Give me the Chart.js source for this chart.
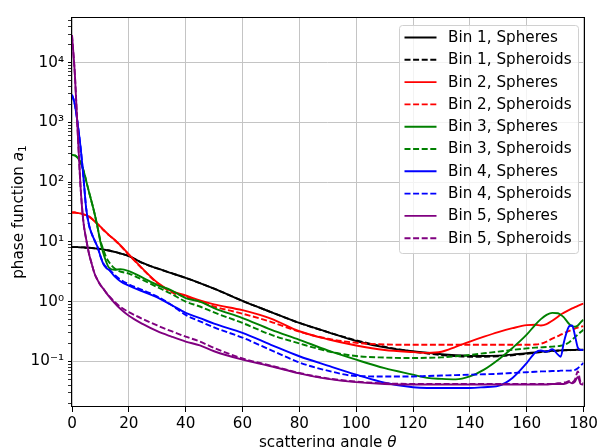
<!DOCTYPE html>
<html>
<head>
<meta charset="utf-8">
<script src="https://cdn.jsdelivr.net/npm/chart.js@4/dist/chart.umd.min.js"></script>
<style>
  html, body { margin: 0; padding: 0; background: #fff; overflow: hidden; }
  canvas { display: block; }
</style>
</head>
<body>
<canvas id="chart" width="601" height="447"></canvas>
<script>
/* ---- DATA ---- */
const ANGLES = [0, 1, 2, 3, 4, 5, 6, 7, 8, 9, 10, 11, 12, 13, 15, 17, 20, 25, 30, 35, 40, 45, 50,
  60, 70, 80, 90, 100, 110, 120, 125, 130, 135, 140, 145, 150, 155, 160, 163, 165, 167, 169, 171,
  172, 173, 174, 175, 176, 177, 178, 179, 180];

const B1_SPHERES = [8.2, 8.2, 8.2, 8.1, 8.1, 8.0, 8.0, 7.9, 7.8, 7.7, 7.6, 7.5, 7.3, 7.2, 6.8, 6.4, 5.8, 4.4, 3.6, 3.0, 2.5, 2.05, 1.65,
  1.03, 0.67, 0.44, 0.31, 0.22, 0.172, 0.148, 0.14, 0.132, 0.127, 0.124, 0.123, 0.125, 0.13, 0.137, 0.142, 0.145, 0.148, 0.15, 0.152,
  0.153, 0.154, 0.155, 0.155, 0.156, 0.156, 0.157, 0.157, 0.157];
const B1_SPHEROIDS = [8.2, 8.2, 8.2, 8.1, 8.1, 8.0, 8.0, 7.9, 7.8, 7.7, 7.6, 7.5, 7.3, 7.2, 6.8, 6.4, 5.8, 4.4, 3.6, 3.0, 2.5, 2.05, 1.65,
  1.03, 0.67, 0.44, 0.31, 0.225, 0.176, 0.146, 0.136, 0.128, 0.123, 0.12, 0.12, 0.122, 0.127, 0.134, 0.14, 0.143, 0.146, 0.149, 0.151,
  0.152, 0.153, 0.154, 0.154, 0.155, 0.155, 0.156, 0.156, 0.156];

const B2_SPHERES = [31, 31, 30.5, 30, 29, 28, 26.5, 24.5, 22, 20, 18, 16, 14.5, 13, 10.9, 8.8, 6.2, 3.5, 2.1, 1.5, 1.27, 1.05, 0.9,
  0.72, 0.52, 0.32, 0.235, 0.185, 0.155, 0.143, 0.139, 0.145, 0.175, 0.215, 0.26, 0.31, 0.36, 0.405, 0.41, 0.40, 0.42, 0.48, 0.56,
  0.61, 0.65, 0.69, 0.73, 0.77, 0.81, 0.85, 0.89, 0.93];
const B2_SPHEROIDS = [31, 31, 30.5, 30, 29, 28, 26.5, 24.5, 22, 20, 18, 16, 14.5, 13, 10.8, 8.7, 6.1, 3.45, 2.05, 1.45, 1.2, 1.0, 0.83,
  0.63, 0.46, 0.315, 0.24, 0.205, 0.192, 0.19, 0.19, 0.19, 0.19, 0.19, 0.19, 0.19, 0.19, 0.19, 0.192, 0.198, 0.215, 0.24, 0.265,
  0.28, 0.295, 0.31, 0.325, 0.34, 0.355, 0.37, 0.38, 0.39];

const B3_SPHERES = [285, 280, 255, 215, 160, 105, 68, 45, 29, 17.5, 10, 6.5, 4.7, 3.7, 3.4, 3.5, 3.25, 2.5, 1.9, 1.55, 1.15, 1.0, 0.78,
  0.53, 0.34, 0.23, 0.153, 0.107, 0.077, 0.06, 0.053, 0.051, 0.05, 0.056, 0.073, 0.107, 0.168, 0.28, 0.41, 0.51, 0.6, 0.65, 0.64,
  0.6, 0.55, 0.48, 0.42, 0.39, 0.38, 0.4, 0.45, 0.5];
const B3_SPHEROIDS = [285, 280, 255, 215, 160, 105, 68, 45, 29, 17.5, 10.5, 7.5, 5.6, 4.6, 3.6, 3.2, 2.95, 2.3, 1.75, 1.35, 1.0, 0.83, 0.66,
  0.44, 0.28, 0.2, 0.148, 0.123, 0.116, 0.114, 0.115, 0.117, 0.122, 0.128, 0.137, 0.146, 0.156, 0.165, 0.17, 0.172, 0.174, 0.177, 0.18,
  0.183, 0.188, 0.197, 0.21, 0.23, 0.255, 0.28, 0.31, 0.34];

const B4_SPHERES = [2900, 2000, 950, 390, 125, 36, 19, 13.5, 10.5, 8.2, 5.8, 4.3, 3.7, 3.4, 2.65, 2.2, 1.85, 1.48, 1.18, 0.88, 0.65, 0.53, 0.43,
  0.3, 0.19, 0.122, 0.085, 0.06, 0.044, 0.037, 0.036, 0.036, 0.036, 0.036, 0.037, 0.039, 0.053, 0.094, 0.14, 0.152, 0.145, 0.16, 0.13,
  0.12, 0.2, 0.3, 0.39, 0.4, 0.27, 0.17, 0.155, 0.157];
const B4_SPHEROIDS = [2900, 2000, 950, 390, 125, 36, 19, 13.5, 10.5, 8.2, 5.8, 4.4, 3.8, 3.5, 2.8, 2.35, 1.95, 1.55, 1.22, 0.88, 0.6, 0.47, 0.37,
  0.25, 0.155, 0.096, 0.07, 0.057, 0.056, 0.056, 0.057, 0.058, 0.059, 0.06, 0.061, 0.062, 0.064, 0.066, 0.067, 0.068, 0.068, 0.069, 0.069,
  0.07, 0.07, 0.07, 0.07, 0.071, 0.072, 0.077, 0.085, 0.094];

const B5_SPHERES = [29000, 6500, 700, 85, 22, 11, 6.3, 4.2, 2.9, 2.3, 1.9, 1.65, 1.42, 1.23, 0.95, 0.76, 0.58, 0.42, 0.32, 0.26, 0.215, 0.185, 0.148,
  0.107, 0.083, 0.063, 0.051, 0.045, 0.042, 0.041, 0.041, 0.041, 0.041, 0.041, 0.041, 0.041, 0.041, 0.041, 0.041, 0.041, 0.041, 0.042, 0.042,
  0.042, 0.042, 0.043, 0.045, 0.043, 0.046, 0.055, 0.042, 0.041];
const B5_SPHEROIDS = [29000, 6500, 700, 85, 22, 11, 6.3, 4.2, 2.9, 2.3, 1.9, 1.65, 1.42, 1.25, 1.0, 0.82, 0.67, 0.51, 0.4, 0.32, 0.26, 0.215, 0.168,
  0.112, 0.085, 0.064, 0.052, 0.046, 0.043, 0.042, 0.042, 0.042, 0.042, 0.042, 0.042, 0.042, 0.042, 0.042, 0.042, 0.042, 0.042, 0.042, 0.043,
  0.043, 0.044, 0.045, 0.047, 0.045, 0.05, 0.068, 0.045, 0.043];

const SERIES_LABELS = ['Bin 1, Spheres', 'Bin 1, Spheroids', 'Bin 2, Spheres', 'Bin 2, Spheroids', 'Bin 3, Spheres',
  'Bin 3, Spheroids', 'Bin 4, Spheres', 'Bin 4, Spheroids', 'Bin 5, Spheres', 'Bin 5, Spheroids'];
const SERIES_VALUES = [B1_SPHERES, B1_SPHEROIDS, B2_SPHERES, B2_SPHEROIDS, B3_SPHERES,
  B3_SPHEROIDS, B4_SPHERES, B4_SPHEROIDS, B5_SPHERES, B5_SPHEROIDS];
const X_TICKS = [0, 20, 40, 60, 80, 100, 120, 140, 160, 180];
const Y_MIN = 0.01726;
const Y_MAX = 58200;

/* ---- STYLE ---- */
const COLORS = ['#000000', '#ff0000', '#008000', '#0000ff', '#800080'];
const DASH = [6, 2.6];
const LINE_W = 1.9;
const GRID = '#c4c4c4';
const FONT = 'DejaVu Sans';
const FS = 15.2;

/* ---- HELPERS ---- */
const SUP = { '-': '\u207b', '0': '\u2070', '1': '\u00b9', '2': '\u00b2', '3': '\u00b3', '4': '\u2074' };
function isDecade(v) {
  const l = Math.log10(v);
  return Math.abs(l - Math.round(l)) < 1e-9;
}
function decadeLabel(v) {
  const e = String(Math.round(Math.log10(v)));
  return '10' + e.split('').map(c => SUP[c]).join('');
}
function logTicks(min, max) {
  const out = [];
  for (let k = -2; k <= 4; k++) {
    for (let m = 1; m <= 9; m++) {
      const v = m * Math.pow(10, k);
      if (v >= min && v <= max) out.push({ value: v, major: m === 1 });
    }
  }
  return out;
}
function richWidth(ctx, parts) {
  return parts.reduce((w, p) => { ctx.font = p.font; return w + ctx.measureText(p.text).width; }, 0);
}
function drawRich(ctx, parts, cx, y) {
  let x = cx - richWidth(ctx, parts) / 2;
  parts.forEach(p => {
    ctx.font = p.font;
    ctx.fillText(p.text, x, y + (p.dy || 0));
    x += ctx.measureText(p.text).width;
  });
}

/* ---- OVERLAY: frame, legend, axis titles ---- */
const overlay = {
  id: 'overlay',
  afterDraw(chart) {
    const { ctx, chartArea: a } = chart;
    ctx.save();

    // frame
    ctx.strokeStyle = '#000';
    ctx.lineWidth = 1;
    ctx.strokeRect(Math.round(a.left) - 0.5, Math.round(a.top) + 0.5,
      Math.round(a.right) - Math.round(a.left) + 1, Math.round(a.bottom) - Math.round(a.top) - 1);

    // legend
    const lx = 399.5, ly = 25.5, lw = 179, lh = 228;
    ctx.beginPath();
    ctx.roundRect(lx, ly, lw, lh, 3);
    ctx.fillStyle = 'rgba(255,255,255,0.8)';
    ctx.fill();
    ctx.strokeStyle = '#d0d0d0';
    ctx.stroke();
    ctx.textBaseline = 'middle';
    ctx.textAlign = 'left';
    SERIES_LABELS.forEach((lab, i) => {
      const y = 37.5 + i * 22.3;
      ctx.beginPath();
      ctx.strokeStyle = COLORS[Math.floor(i / 2)];
      ctx.lineWidth = LINE_W;
      ctx.setLineDash(i % 2 ? DASH : []);
      ctx.moveTo(404.5, y);
      ctx.lineTo(436.5, y);
      ctx.stroke();
      ctx.setLineDash([]);
      ctx.fillStyle = '#000';
      ctx.font = FS + 'px "' + FONT + '"';
      ctx.fillText(lab, 448, y + 0.5);
    });

    // axis titles
    ctx.textBaseline = 'alphabetic';
    ctx.fillStyle = '#000';
    const norm = FS + 'px "' + FONT + '"';
    const ital = 'italic ' + FS + 'px "' + FONT + '"';
    const small = (FS * 0.7).toFixed(1) + 'px "' + FONT + '"';
    drawRich(ctx, [{ text: 'scattering angle ', font: norm }, { text: '\u03b8', font: ital }],
      (a.left + a.right) / 2, 446.5);

    ctx.translate(23, (a.top + a.bottom) / 2);
    ctx.rotate(-Math.PI / 2);
    drawRich(ctx, [{ text: 'phase function ', font: norm }, { text: 'a', font: ital },
      { text: '1', font: small, dy: 3 }], 0, 0);
    ctx.restore();
  }
};

/* ---- CHART ---- */
const datasets = SERIES_VALUES.map((vals, i) => ({
  label: SERIES_LABELS[i],
  data: ANGLES.map((x, j) => ({ x, y: vals[j] })),
  borderColor: COLORS[Math.floor(i / 2)],
  borderWidth: LINE_W,
  borderDash: i % 2 ? DASH : [],
  pointRadius: 0,
  fill: false,
  cubicInterpolationMode: 'monotone',
  order: SERIES_VALUES.length - i
}));

new Chart(document.getElementById('chart'), {
  type: 'line',
  data: { datasets },
  options: {
    responsive: false,
    animation: false,
    devicePixelRatio: 1,
    layout: { padding: { top: 17, right: 14, left: 0, bottom: 0 } },
    plugins: { legend: { display: false }, tooltip: { enabled: false } },
    scales: {
      x: {
        type: 'linear', min: 0, max: 180,
        afterBuildTicks: s => { s.ticks = X_TICKS.map(v => ({ value: v })); },
        afterFit: s => { s.height = 40; },
        border: { display: false },
        grid: { color: GRID, lineWidth: 1, tickColor: '#000', tickLength: 5 },
        ticks: { autoSkip: false, maxRotation: 0, padding: 3, color: '#000', font: { family: FONT, size: FS } }
      },
      y: {
        type: 'logarithmic', min: Y_MIN, max: Y_MAX,
        afterBuildTicks: s => { s.ticks = logTicks(Y_MIN, Y_MAX); },
        afterFit: s => { s.width = 72; },
        border: { display: false },
        grid: {
          color: c => (c.tick && isDecade(c.tick.value)) ? GRID : 'rgba(0,0,0,0)',
          lineWidth: 1,
          tickColor: '#000',
          tickWidth: c => (c.tick && isDecade(c.tick.value)) ? 1 : 0.8,
          tickLength: 4
        },
        ticks: {
          autoSkip: false, padding: 4, color: '#000', font: { family: FONT, size: FS },
          callback: v => isDecade(v) ? decadeLabel(v) : ''
        }
      }
    }
  },
  plugins: [overlay]
});
</script>
</body>
</html>
